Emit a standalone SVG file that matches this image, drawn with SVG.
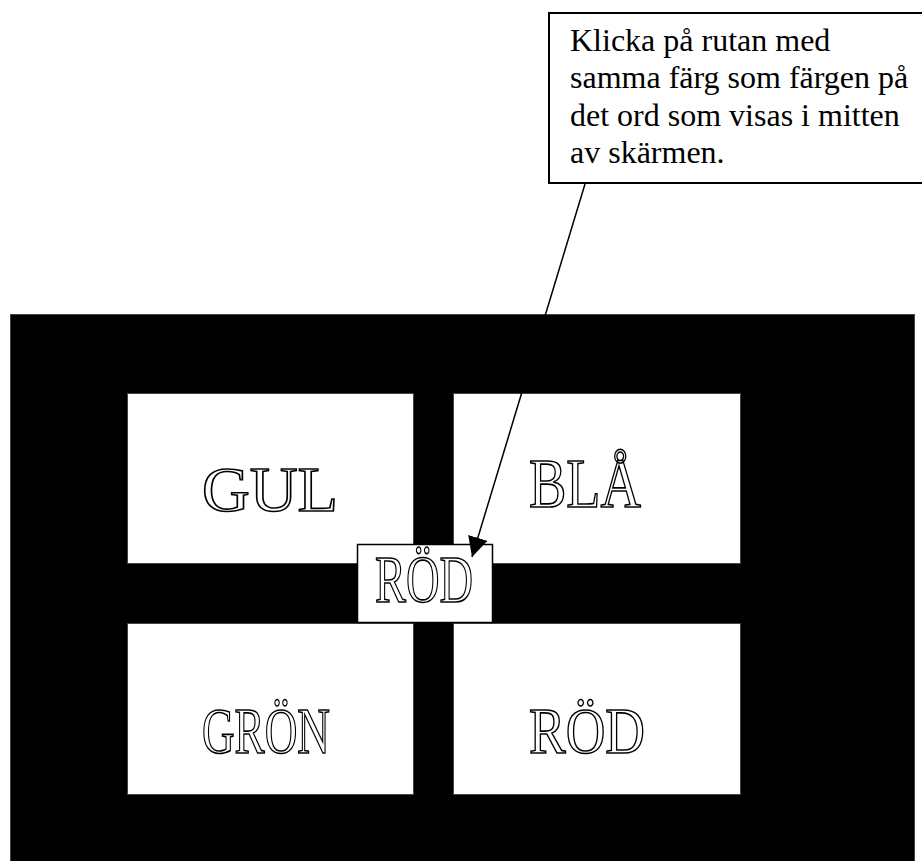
<svg xmlns="http://www.w3.org/2000/svg" width="922" height="861" viewBox="0 0 922 861">
<defs>
<style>
.box{fill:#fff;stroke:#444;stroke-width:1}
</style>
<marker id="ah" viewBox="0 0 10 10" refX="10" refY="5" markerWidth="20" markerHeight="20" markerUnits="userSpaceOnUse" orient="auto">
<path d="M0,0 L10,5 L0,10 z" fill="#000"/>
</marker>
</defs>
<rect width="922" height="861" fill="#fff"/>
<g id="screen">
<rect x="10.5" y="314.5" width="904" height="560" fill="#000" stroke="#444" stroke-width="1"/>
</g>
<g id="gul">
<rect class="box" x="127.5" y="393.5" width="286" height="170"/>
<text x="202" y="511" font-family="Liberation Serif" font-size="63" fill="#fff" stroke="#000" stroke-width="1.6" textLength="136" lengthAdjust="spacingAndGlyphs">GUL</text>
</g>
<g id="bla">
<rect class="box" x="453.5" y="393.5" width="287" height="170"/>
<text x="529" y="507" font-family="Liberation Serif" font-size="69" fill="#fff" stroke="#000" stroke-width="1.6" textLength="112" lengthAdjust="spacingAndGlyphs">BLÅ</text>
</g>
<g id="gron">
<rect class="box" x="127.5" y="623.5" width="286" height="171"/>
<text x="202" y="753" font-family="Liberation Serif" font-size="66" fill="#fff" stroke="#000" stroke-width="1.6" textLength="128" lengthAdjust="spacingAndGlyphs">GRÖN</text>
</g>
<g id="rod">
<rect class="box" x="453.5" y="623.5" width="287" height="171"/>
<text x="529" y="753" font-family="Liberation Serif" font-size="66" fill="#fff" stroke="#000" stroke-width="1.6" textLength="116" lengthAdjust="spacingAndGlyphs">RÖD</text>
</g>
<g id="center">
<rect x="357.5" y="544.5" width="135" height="78" fill="#fff" stroke="#000" stroke-width="1.5"/>
<text x="375" y="602" font-family="Liberation Serif" font-size="68" fill="#fff" stroke="#000" stroke-width="1.6" textLength="98" lengthAdjust="spacingAndGlyphs">RÖD</text>
</g>
<g id="callout">
<rect x="549" y="13" width="380" height="170" fill="#fff" stroke="#000" stroke-width="2"/>
<text x="570" y="51" font-family="Liberation Serif" font-size="32" fill="#000">Klicka på rutan med</text>
<text x="570" y="88" font-family="Liberation Serif" font-size="32" fill="#000">samma färg som färgen på</text>
<text x="570" y="125.5" font-family="Liberation Serif" font-size="32" fill="#000">det ord som visas i mitten</text>
<text x="570" y="163" font-family="Liberation Serif" font-size="32" fill="#000">av skärmen.</text>
</g>
<g id="connectors">
<line x1="585" y1="184" x2="472" y2="557" stroke="#000" stroke-width="1.5" marker-end="url(#ah)"/>
</g>
</svg>
